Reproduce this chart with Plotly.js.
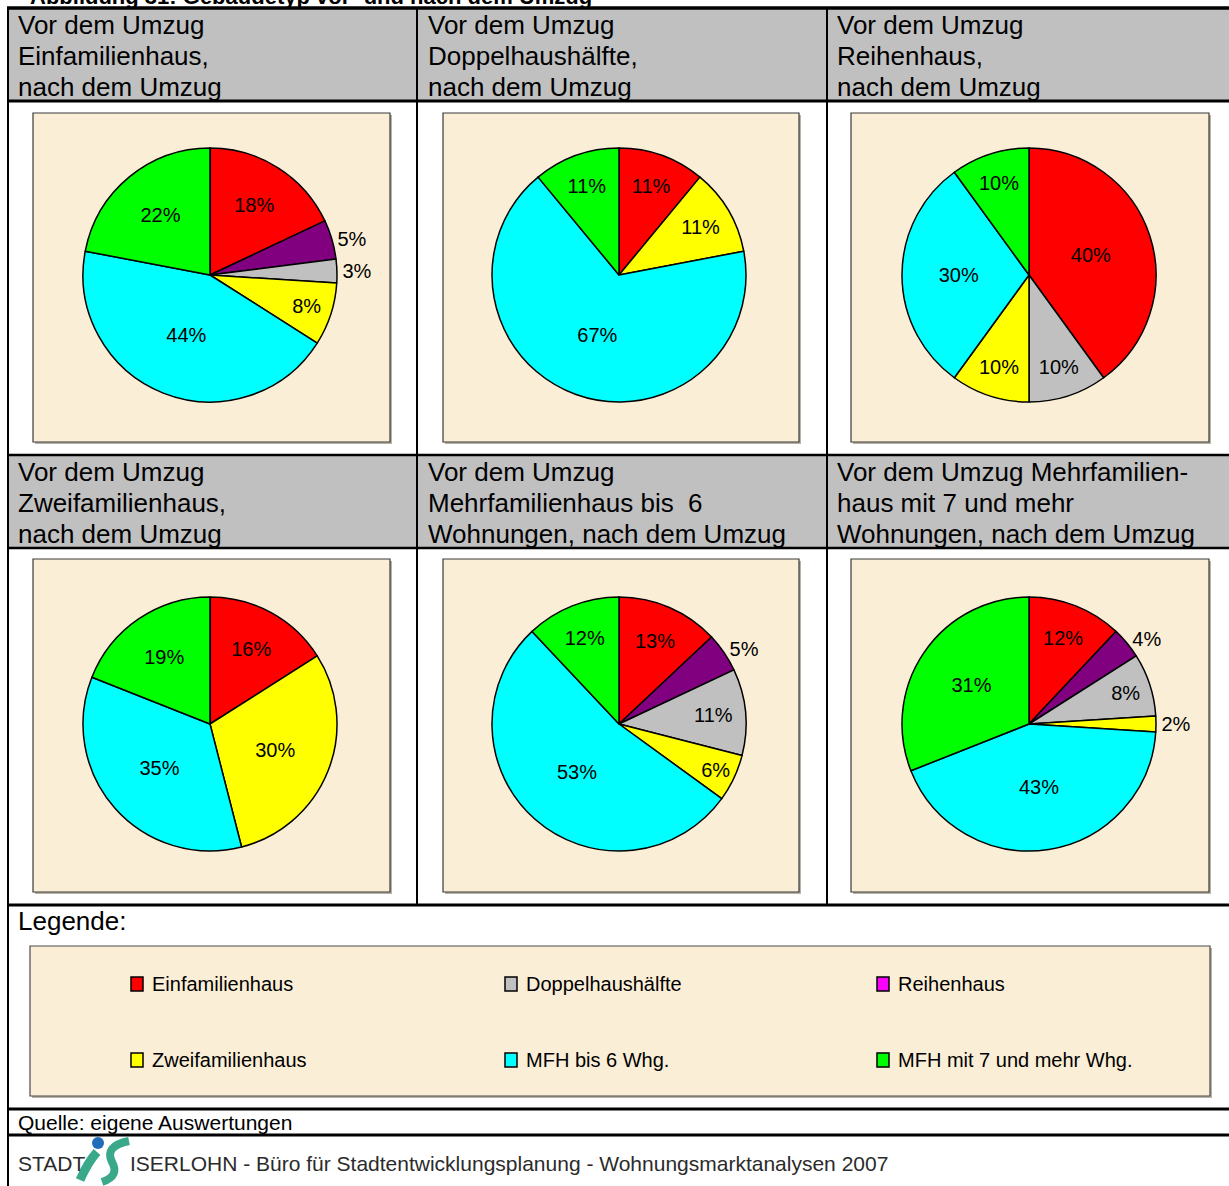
<!DOCTYPE html>
<html>
<head>
<meta charset="utf-8">
<script src="https://cdn.plot.ly/plotly-3.0.1.min.js"></script>
<style>html,body{margin:0;padding:0;background:#fff;}#chart{width:1229px;height:1186px;}</style>
</head>
<body>
<div id="chart"></div>
<script>
// ---------- data ----------
const categories = ['Einfamilienhaus', 'Reihenhaus', 'Doppelhaushälfte', 'Zweifamilienhaus', 'MFH bis 6 Whg.', 'MFH mit 7 und mehr Whg.'];
const sliceColors = ['#ff0000', '#800080', '#c0c0c0', '#ffff00', '#00ffff', '#00ff00'];

const vorEinfamilienhaus = [18, 5, 3, 8, 44, 22];
const vorDoppelhaushaelfte = [11, 0, 0, 11, 67, 11];
const vorReihenhaus = [40, 0, 10, 10, 30, 10];
const vorZweifamilienhaus = [16, 0, 0, 30, 35, 19];
const vorMFHbis6 = [13, 5, 11, 6, 53, 12];
const vorMFHab7 = [12, 4, 8, 2, 43, 31];

const panelTitles = [
  ['Vor dem Umzug', 'Einfamilienhaus,', 'nach dem Umzug'],
  ['Vor dem Umzug', 'Doppelhaushälfte,', 'nach dem Umzug'],
  ['Vor dem Umzug', 'Reihenhaus,', 'nach dem Umzug'],
  ['Vor dem Umzug', 'Zweifamilienhaus,', 'nach dem Umzug'],
  ['Vor dem Umzug', 'Mehrfamilienhaus bis  6', 'Wohnungen, nach dem Umzug'],
  ['Vor dem Umzug Mehrfamilien-', 'haus mit 7 und mehr', 'Wohnungen, nach dem Umzug']
];

const legendLabels = ['Einfamilienhaus', 'Doppelhaushälfte', 'Reihenhaus', 'Zweifamilienhaus', 'MFH bis 6 Whg.', 'MFH mit 7 und mehr Whg.'];
const legendColors = ['#ff0000', '#c0c0c0', '#ff00ff', '#ffff00', '#00ffff', '#00ff00'];

const figureTitle = 'Abbildung 31: Gebäudetyp vor- und nach dem Umzug';
const legendHeading = 'Legende:';
const sourceText = 'Quelle: eigene Auswertungen';
const footerCity1 = 'STADT';
const footerCity2 = 'ISERLOHN';
const footerText = ' - Büro für Stadtentwicklungsplanung - Wohnungsmarktanalysen 2007';

// ---------- layout helpers ----------
const W = 1229, H = 1186;
const fx = x => x / W;
const fy = y => 1 - y / H;
const FONT = 'Liberation Sans, Arial, sans-serif';
const beige = '#fbeed6';

const pieSeries = [vorEinfamilienhaus, vorDoppelhaushaelfte, vorReihenhaus, vorZweifamilienhaus, vorMFHbis6, vorMFHab7];
const colX = [210, 619, 1029];
const rowY = [275, 724];
const R = 127;

const traces = pieSeries.map((vals, i) => {
  const cx = colX[i % 3], cy = rowY[Math.floor(i / 3)];
  const labels = [], values = [], colors = [], pos = [];
  vals.forEach((v, k) => {
    if (v > 0) {
      labels.push(categories[k]);
      values.push(v);
      colors.push(sliceColors[k]);
      pos.push(v <= 5 ? 'outside' : 'inside');
    }
  });
  return {
    type: 'pie',
    labels: labels,
    values: values,
    sort: false,
    direction: 'clockwise',
    rotation: 0,
    marker: {colors: colors, line: {color: '#000', width: 1.5}},
    texttemplate: '%{value}%',
    textposition: pos,
    insidetextorientation: 'horizontal',
    textfont: {family: FONT, size: 20, color: '#000'},
    insidetextfont: {family: FONT, size: 20, color: '#000'},
    outsidetextfont: {family: FONT, size: 20, color: '#000'},
    hoverinfo: 'none',
    showlegend: false,
    domain: {x: [fx(cx - R), fx(cx + R)], y: [fy(cy + R), fy(cy - R)]}
  };
});

// ---------- shapes ----------
const shapes = [];
const rect = (x0, y0, x1, y1, fill, lineColor, lw, layer) => shapes.push({
  type: 'rect', xref: 'paper', yref: 'paper', x0: fx(x0), x1: fx(x1), y0: fy(y1), y1: fy(y0),
  fillcolor: fill, line: {color: lineColor || 'rgba(0,0,0,0)', width: lw || 0}, layer: layer || 'below'
});
const line = (x0, y0, x1, y1, lw, color) => shapes.push({
  type: 'line', xref: 'paper', yref: 'paper', x0: fx(x0), x1: fx(x1), y0: fy(y0), y1: fy(y1),
  line: {color: color || '#000', width: lw}, layer: 'above'
});

// header backgrounds
rect(8, 8, W, 101, '#c0c0c0');
rect(8, 455, W, 548, '#c0c0c0');
// chart panels
const panelX = [[33, 390], [443, 799], [851, 1209]];
const panelY = [[113, 442], [559, 892]];
panelY.forEach(py => panelX.forEach(px => {
  rect(px[0] + 2, py[0] + 2, px[1] + 2, py[1] + 2, '#b9b2a6');
  rect(px[0], py[0], px[1], py[1], beige, '#3a3a3a', 1.2);
}));
// legend box
rect(32, 948, 1212, 1098, '#b9b2a6');
rect(30, 946, 1210, 1096, beige, '#4a4a4a', 1.2);

// table lines
line(7, 8, W, 8, 3.5);
line(8, 7, 8, H, 2);
line(8, 101, W, 101, 3);
line(8, 455, W, 455, 2.5);
line(8, 548, W, 548, 2.5);
line(8, 905, W, 905, 3);
line(8, 1109, W, 1109, 3);
line(8, 1135, W, 1135, 3);
line(417, 8, 417, 905, 2);
line(827, 8, 827, 905, 2);

// legend swatches
const legCols = [131, 505, 877];
const legRows = [984, 1060];
legendLabels.forEach((lab, i) => {
  const x = legCols[i % 3], y = legRows[Math.floor(i / 3)];
  rect(x, y - 7, x + 12, y + 7, legendColors[i], '#000', 1.5, 'above');
});

// logo (STADT ISERLOHN)
shapes.push({type: 'path', xref: 'paper', yref: 'paper', layer: 'above',
  path: 'M' + fx(80) + ',' + fy(1180) + ' Q' + fx(88) + ',' + fy(1162) + ' ' + fx(97) + ',' + fy(1152),
  line: {color: '#3aa98a', width: 9}});
shapes.push({type: 'path', xref: 'paper', yref: 'paper', layer: 'above',
  path: 'M' + fx(129) + ',' + fy(1141) + ' Q' + fx(104) + ',' + fy(1146) + ' ' + fx(112) + ',' + fy(1162) +
        ' Q' + fx(120) + ',' + fy(1176) + ' ' + fx(102) + ',' + fy(1182),
  line: {color: '#3aa98a', width: 8}});
shapes.push({type: 'circle', xref: 'paper', yref: 'paper', layer: 'above',
  x0: fx(92), x1: fx(104), y0: fy(1149), y1: fy(1137), fillcolor: '#1f6cb8', line: {width: 0}});

// ---------- annotations ----------
const annotations = [];
const txt = (x, y, text, size, color) => annotations.push({
  xref: 'paper', yref: 'paper', x: fx(x - 2), y: fy(y), text: text, showarrow: false,
  xanchor: 'left', yanchor: 'middle', font: {family: FONT, size: size, color: color || '#000'}
});

txt(30, -3, '<b>' + figureTitle + '</b>', 22);

const headerX = [18, 428, 837];
const headerY = [[25, 56, 87], [472, 503, 534]];
panelTitles.forEach((lines, i) => {
  lines.forEach((l, j) => txt(headerX[i % 3], headerY[Math.floor(i / 3)][j], l, 26));
});

txt(18, 921, legendHeading, 26);
legendLabels.forEach((lab, i) => {
  txt(legCols[i % 3] + 21, legRows[Math.floor(i / 3)], lab, 20);
});
txt(18, 1122, sourceText, 21);
txt(18, 1163, footerCity1, 21, '#2b2b2b');
txt(130, 1163, footerCity2 + footerText, 21, '#2b2b2b');

const layout = {
  width: W, height: H,
  margin: {l: 0, r: 0, t: 0, b: 0},
  paper_bgcolor: '#ffffff',
  showlegend: false,
  shapes: shapes,
  annotations: annotations
};

Plotly.newPlot('chart', traces, layout, {displayModeBar: false, staticPlot: true});
</script>
</body>
</html>
